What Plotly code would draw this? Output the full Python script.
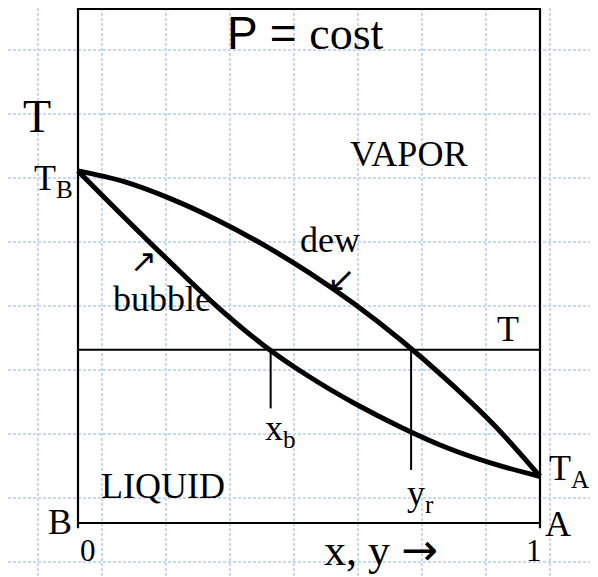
import plotly.graph_objects as go

# ---- data (composition x/y in mole fraction of A, T in arbitrary units) ----
comp_x = [0.0, 0.1, 0.2, 0.3, 0.4, 0.5, 0.6, 0.7, 0.8, 0.9, 1.0]
dew_T = [68.5, 66.4, 63.1, 59.0, 54.2, 48.7, 42.5, 35.5, 27.7, 19.1, 9.05]
bub_T = [68.5, 59.5, 50.7, 42.2, 34.7, 28.5, 23.2, 18.6, 14.6, 11.5, 9.05]
T_line = 33.7
x_b = 0.417
y_r = 0.721
x_b_low = 22.3
y_r_low = 10.3
T_top = 100.0

# ---- geometry (page pixels; the page body adds an 8px offset) ----
OFF = 8
W, H = 590, 569
L_PX, R_PX, T_PX, B_PX = 78, 540, 9, 523
XS = R_PX - L_PX
YS = (B_PX - T_PX) / T_top
GRID = 64


def px2x(px):
    return (px - L_PX) / XS


def py2y(py):
    return (B_PX - py) / YS


x_range = [px2x(OFF), px2x(OFF + W)]
y_range = [py2y(OFF + H), py2y(OFF)]

SERIF = "Liberation Serif, Times New Roman, serif"
BLACK = "#000000"

fig = go.Figure()

# bounding box
fig.add_trace(go.Scatter(x=[0, 0, 1, 1], y=[-1, T_top, T_top, -1], mode="lines",
                         line=dict(color=BLACK, width=2.2), hoverinfo="skip"))
fig.add_trace(go.Scatter(x=[0, 1], y=[0, 0], mode="lines",
                         line=dict(color=BLACK, width=2.2), hoverinfo="skip"))
# isotherm T
fig.add_trace(go.Scatter(x=[0, 1], y=[T_line, T_line], mode="lines",
                         line=dict(color=BLACK, width=2), hoverinfo="skip"))
# x_b and y_r drop lines
fig.add_trace(go.Scatter(x=[x_b, x_b], y=[T_line, x_b_low], mode="lines",
                         line=dict(color=BLACK, width=2), hoverinfo="skip"))
fig.add_trace(go.Scatter(x=[y_r, y_r], y=[T_line, y_r_low], mode="lines",
                         line=dict(color=BLACK, width=2), hoverinfo="skip"))
# dew and bubble curves
fig.add_trace(go.Scatter(x=comp_x, y=dew_T, mode="lines",
                         line=dict(color=BLACK, width=5, shape="spline", smoothing=1.0),
                         hoverinfo="skip"))
fig.add_trace(go.Scatter(x=comp_x, y=bub_T, mode="lines",
                         line=dict(color=BLACK, width=5, shape="spline", smoothing=1.0),
                         hoverinfo="skip"))


def txt(text, px, py, size, xanchor="center", family=SERIF):
    fig.add_annotation(x=px2x(px), y=py2y(py), text=text, showarrow=False,
                       xanchor=xanchor, yanchor="middle",
                       font=dict(family=family, size=size, color=BLACK))


txt("<span style='font-family:Liberation Sans, Arial'>P = </span>cost", 305.5, 33, 46)
txt("T", 37, 116, 46)
txt("T<sub>B</sub>", 75, 180, 36, xanchor="right")
txt("VAPOR", 408, 154, 36)
txt("bubble", 161.7, 299, 36)
txt("↗", 143, 261, 32, family="DejaVu Sans")
txt("dew", 330, 240, 36)
txt("↙", 341.7, 279, 34, family="DejaVu Sans")
txt("T", 507.5, 329, 36)
txt("x<sub>b</sub>", 263, 430, 36, xanchor="left")
txt("y<sub>r</sub>", 405, 495, 36, xanchor="left")
txt("LIQUID", 163, 485.6, 36)
txt("B", 60, 522.3, 36)
txt("0", 88, 550, 31)
txt("1", 534, 550, 31)
txt("A", 557.5, 524.3, 36)
txt("T<sub>A</sub>", 547, 470, 36, xanchor="left")
txt("x, y <span style='font-family:DejaVu Sans'>→</span>", 321.7, 549, 44, xanchor="left")

grid_common = dict(showgrid=True, gridcolor="#c8d6f8", gridwidth=2, griddash="3px,2px",
                   zeroline=False, showticklabels=False, ticks="", showline=False,
                   fixedrange=True)

fig.update_layout(
    width=W, height=H,
    margin=dict(l=0, r=0, t=0, b=0),
    paper_bgcolor="white", plot_bgcolor="white",
    showlegend=False,
    xaxis=dict(range=x_range, tick0=px2x(38), dtick=GRID / XS, **grid_common),
    yaxis=dict(range=y_range, tick0=py2y(50), dtick=GRID / YS, **grid_common),
)

fig.write_html("out.html")
